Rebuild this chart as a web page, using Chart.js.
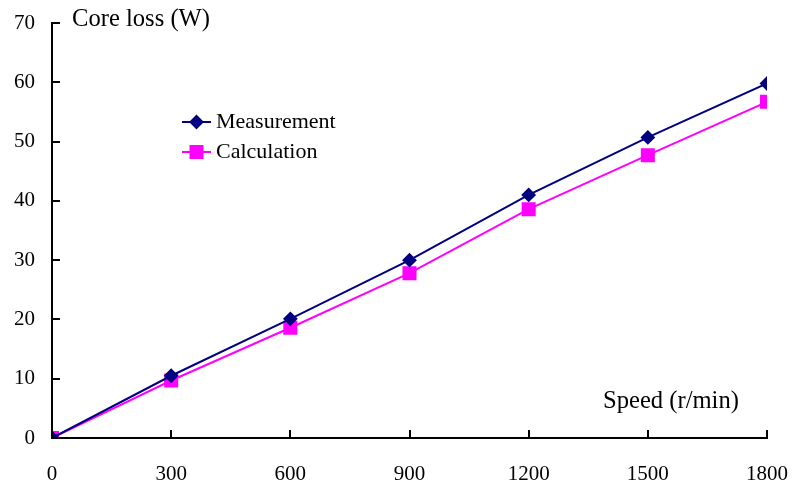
<!DOCTYPE html>
<html>
<head>
<meta charset="utf-8">
<script src="https://cdn.jsdelivr.net/npm/chart.js@4.4.1/dist/chart.umd.min.js"></script>
<style>
  html, body { margin: 0; padding: 0; background: #fff; }
  #wrap { width: 795px; height: 491px; }
</style>
</head>
<body>
<div id="wrap"><canvas id="myChart" width="795" height="491"></canvas></div>
<script>
// speed in r/min
var speeds = [0, 300, 600, 900, 1200, 1500, 1800]
// core loss in W
var measurement = [0, 10.5, 20.1, 30.0, 41.0, 50.7, 59.8]
var calculation = [0, 9.7, 18.6, 27.8, 38.6, 47.7, 56.7]
var seriesNames = ['Measurement', 'Calculation']
var yTitle = 'Core loss (W)'
var xTitle = 'Speed (r/min)'

var FONT = '"Liberation Serif", "Times New Roman", serif'

function toPoints(xs, ys) {
    var pts = []
    for (var i = 0; i < xs.length; i++) {
        pts.push({ x: xs[i], y: ys[i] })
    }
    return pts
}

// ticks pointing inwards, axis titles and the little legend
var extras = {
    id: 'extras',
    afterDraw: function (chart) {
        var ctx = chart.ctx
        var xs = chart.scales.x
        var ys = chart.scales.y
        var area = chart.chartArea
        ctx.save()
        ctx.strokeStyle = '#000'
        ctx.lineWidth = 2
        ctx.beginPath()
        ys.ticks.forEach(function (t) {
            var py = Math.round(ys.getPixelForValue(t.value))
            ctx.moveTo(area.left, py)
            ctx.lineTo(area.left + 8, py)
        })
        xs.ticks.forEach(function (t) {
            var px = Math.round(xs.getPixelForValue(t.value))
            ctx.moveTo(px, area.bottom)
            ctx.lineTo(px, area.bottom - 8)
        })
        ctx.stroke()

        ctx.fillStyle = '#000'
        ctx.font = '24.6px ' + FONT
        ctx.textBaseline = 'middle'
        ctx.textAlign = 'left'
        ctx.fillText(yTitle, 72, 20)
        ctx.fillText(xTitle, 603, 402)

        // legend
        ctx.font = '22px ' + FONT
        chart.data.datasets.forEach(function (ds, i) {
            var ly = 122 + i * 30
            ctx.strokeStyle = ds.borderColor
            ctx.fillStyle = ds.backgroundColor
            ctx.lineWidth = 2
            ctx.beginPath()
            ctx.moveTo(182, ly)
            ctx.lineTo(211, ly)
            ctx.stroke()
            Chart.helpers.drawPoint(ctx, {
                pointStyle: ds.pointStyle,
                radius: ds.pointRadius,
                borderWidth: 1
            }, 196.5, ly)
            ctx.fillStyle = '#000'
            ctx.fillText(ds.label, 216, ly)
        })
        ctx.restore()
    }
}

function buildGraph() {
    var ctx = document.getElementById('myChart').getContext('2d')
    var chart = new Chart(ctx, {
        type: 'line',
        data: {
            datasets: [{
                label: seriesNames[0],
                data: toPoints(speeds, measurement),
                borderColor: '#000080',
                backgroundColor: '#000080',
                pointBackgroundColor: '#000080',
                pointBorderColor: '#000080',
                pointStyle: 'rectRot',
                pointRadius: 6,
                borderWidth: 2,
                tension: 0
            }, {
                label: seriesNames[1],
                data: toPoints(speeds, calculation),
                borderColor: '#ff00ff',
                backgroundColor: '#ff00ff',
                pointBackgroundColor: '#ff00ff',
                pointBorderColor: '#ff00ff',
                pointStyle: 'rect',
                pointRadius: 8.5,
                borderWidth: 2,
                tension: 0
            }]
        },
        options: {
            responsive: false,
            animation: false,
            layout: { padding: { left: 0, top: 23, right: 28, bottom: 0 } },
            plugins: {
                legend: { display: false },
                tooltip: { enabled: false }
            },
            scales: {
                x: {
                    type: 'linear',
                    min: 0,
                    max: 1800,
                    grid: { display: false, drawTicks: false },
                    border: { display: true, color: '#000', width: 2 },
                    ticks: {
                        stepSize: 300,
                        color: '#000',
                        padding: 24,
                        maxRotation: 0,
                        font: { family: FONT, size: 21 },
                        callback: function (v) { return String(v) }
                    },
                    afterFit: function (s) {
                        s.height = 53
                        s.paddingLeft = 0
                        s.paddingRight = 0
                    }
                },
                y: {
                    min: 0,
                    max: 70,
                    grid: { display: false, drawTicks: false },
                    border: { display: true, color: '#000', width: 2 },
                    ticks: {
                        stepSize: 10,
                        color: '#000',
                        padding: 17,
                        font: { family: FONT, size: 21 }
                    },
                    afterFit: function (s) {
                        s.width = 52
                        s.paddingTop = 0
                        s.paddingBottom = 0
                    }
                }
            }
        },
        plugins: [extras]
    })
}

buildGraph()
</script>
</body>
</html>
